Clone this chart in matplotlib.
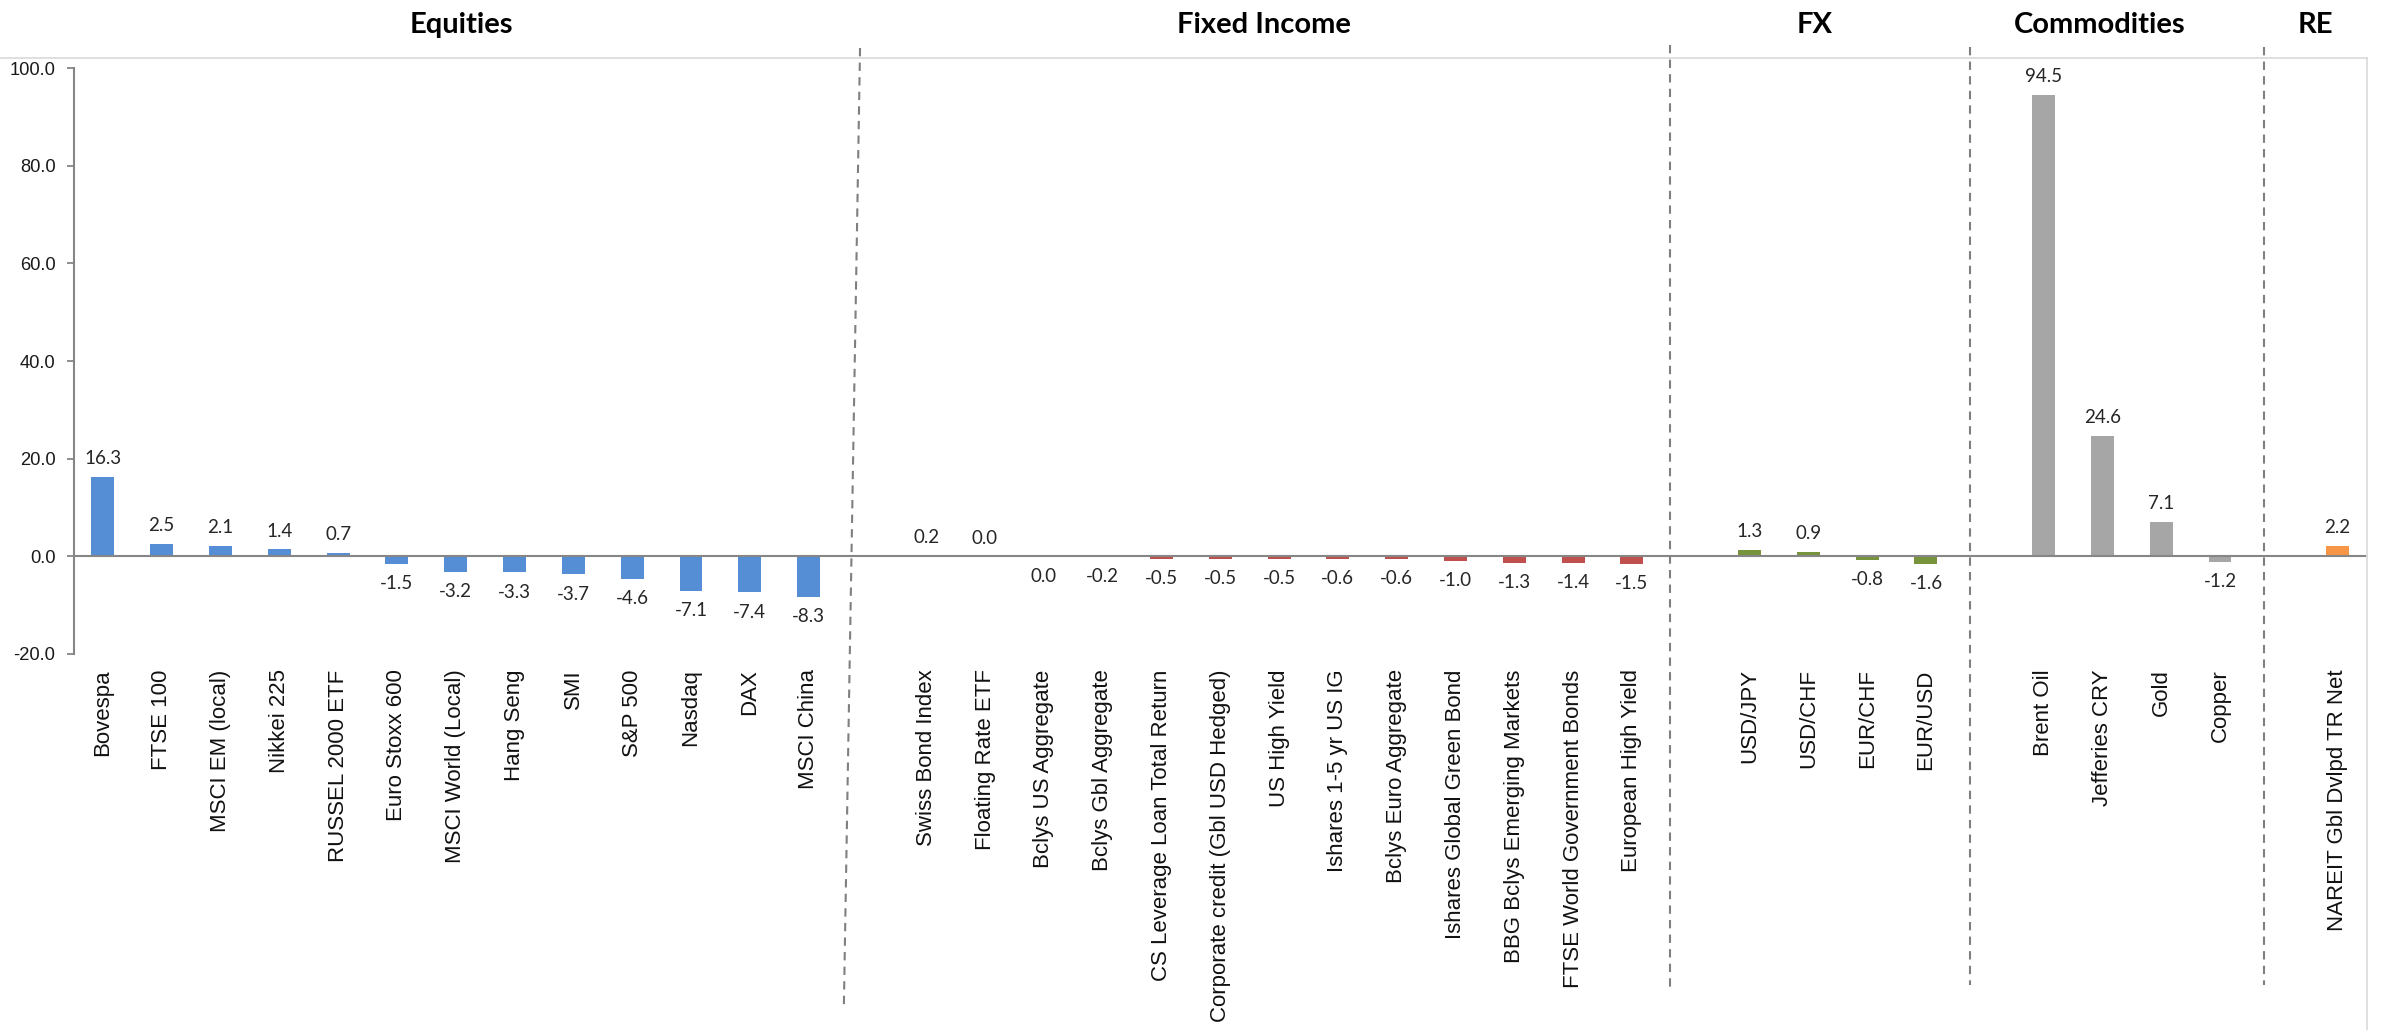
import matplotlib
matplotlib.use("Agg")
import matplotlib.pyplot as plt
import matplotlib.transforms as mtransforms
from matplotlib.lines import Line2D

# ---- data -------------------------------------------------------------
equities = ["Bovespa", "FTSE 100", "MSCI EM (local)", "Nikkei 225", "RUSSEL 2000 ETF",
            "Euro Stoxx 600", "MSCI World (Local)", "Hang Seng", "SMI", "S&P 500",
            "Nasdaq", "DAX", "MSCI China"]
equities_vals = [16.3, 2.5, 2.1, 1.4, 0.7, -1.5, -3.2, -3.3, -3.7, -4.6, -7.1, -7.4, -8.3]

fixed_income = ["Swiss Bond Index", "Floating Rate ETF", "Bclys US Aggregate",
                "Bclys Gbl Aggregate", "CS Leverage Loan Total Return",
                "Corporate credit (Gbl USD Hedged)", "US High Yield", "Ishares 1-5 yr US IG",
                "Bclys Euro Aggregate", "Ishares Global Green Bond",
                "BBG Bclys Emerging Markets", "FTSE World Government Bonds",
                "European High Yield"]
fixed_income_vals = [0.2, 0.02, -0.02, -0.2, -0.5, -0.5, -0.5, -0.6, -0.6, -1.0, -1.3, -1.4, -1.5]

fx = ["USD/JPY", "USD/CHF", "EUR/CHF", "EUR/USD"]
fx_vals = [1.3, 0.9, -0.8, -1.6]

commodities = ["Brent Oil", "Jefferies CRY", "Gold", "Copper"]
commodities_vals = [94.5, 24.6, 7.1, -1.2]

real_estate = ["NAREIT Gbl Dvlpd TR Net"]
real_estate_vals = [2.2]

group_titles = ["Equities", "Fixed Income", "FX", "Commodities", "RE"]
group_colors = ["#558ED5", "#C0504D", "#77933C", "#A6A6A6", "#F79646"]

# ---- layout -----------------------------------------------------------
W, H = 2381, 1030
fig = plt.figure(figsize=(W / 100, H / 100), dpi=100)
ax = fig.add_axes([73.5 / W, 1 - 654 / H, (2367 - 73.5) / W, (654 - 68) / H])

groups = [(equities, equities_vals), (fixed_income, fixed_income_vals),
          (fx, fx_vals), (commodities, commodities_vals), (real_estate, real_estate_vals)]

positions, labels = [], []
pos = 0
for (names, vals), color in zip(groups, group_colors):
    xs = list(range(pos, pos + len(names)))
    ax.bar(xs, vals, width=0.39, color=color, zorder=2)
    for x, v in zip(xs, vals):
        txt = f"{v:.1f}"
        if txt == "-0.0":
            txt = "0.0"
        if v >= 0:
            ax.annotate(txt, (x, v), xytext=(0, 7), textcoords="offset points",
                        ha="center", va="bottom", fontsize=13.5, family="Lato",
                        color="#262626")
        else:
            ax.annotate(txt, (x, v), xytext=(0, -8), textcoords="offset points",
                        ha="center", va="top", fontsize=13.5, family="Lato",
                        color="#262626")
    positions += xs
    labels += names
    pos += len(names) + 1  # one empty slot between groups

ax.set_xlim(-0.5, pos - 1.5)
ax.set_ylim(-20, 100)
ax.set_yticks(range(-20, 101, 20))
ax.set_yticklabels([f"{t:.1f}" for t in range(-20, 101, 20)],
                   family="Liberation Sans", fontsize=13.2, color="#1a1a1a")
ax.tick_params(axis="y", direction="out", length=5, width=1.3, color="#868686", pad=8)

ax.set_xticks(positions)
ax.set_xticklabels(labels, rotation=90, ha="center", va="top",
                   family="Liberation Sans", fontsize=16, color="#111111")
ax.tick_params(axis="x", length=0, pad=11)

for side in ["top", "right", "bottom"]:
    ax.spines[side].set_visible(False)
ax.spines["left"].set_color("#868686")
ax.spines["left"].set_linewidth(1.5)
ax.axhline(0, color="#868686", linewidth=1.5, zorder=3)

# chart-area border (top and right edges visible)
fig.add_artist(Line2D([0, 2367 / W], [1 - 58 / H] * 2, transform=fig.transFigure,
                      color="#D9D9D9", linewidth=1.2))
fig.add_artist(Line2D([2367 / W] * 2, [1 - 58 / H, 0], transform=fig.transFigure,
                      color="#D9D9D9", linewidth=1.2))

# dashed group separators: x in data units, y in figure pixels
blend = mtransforms.blended_transform_factory(ax.transData, fig.transFigure)
separators = [((12.875, 48), (12.6, 1005)),
              ((26.65, 45), (26.65, 988)),
              ((31.75, 47), (31.75, 985)),
              ((36.75, 47), (36.75, 985))]
for (x0, y0), (x1, y1) in separators:
    fig.add_artist(Line2D([x0, x1], [1 - y0 / H, 1 - y1 / H], transform=blend,
                          color="#7F7F7F", linewidth=1.5, linestyle=(0, (4, 3))))

# group titles
title_x = [6.1, 19.75, 29.1, 33.95, 37.62]
for t, x in zip(group_titles, title_x):
    ax.text(x, 1 - 33 / H, t, transform=blend, ha="center", va="baseline",
            family="Lato", fontweight="bold", fontsize=21, color="black")

fig.savefig("out.png", dpi=100)
